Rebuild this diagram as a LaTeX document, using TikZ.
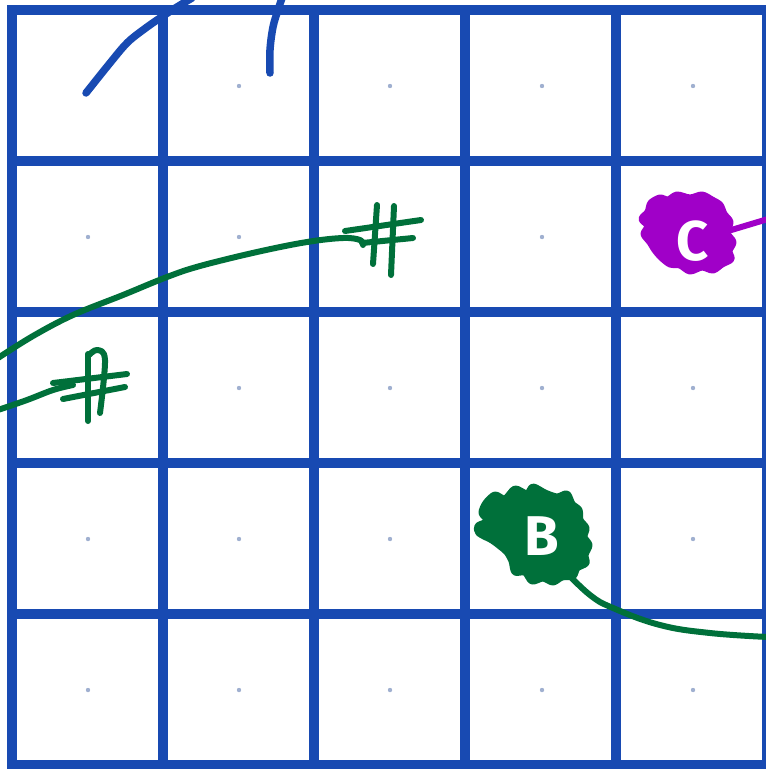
\documentclass[tikz,border=0pt]{standalone}
\usepackage{fontspec}
\setsansfont{Fira Sans}
\usetikzlibrary{positioning}
\definecolor{gridblue}{RGB}{24,74,178}
\definecolor{dotgray}{RGB}{160,176,208}
\definecolor{penblue}{RGB}{24,74,178}
\definecolor{pengreen}{RGB}{0,112,58}
\definecolor{penpurple}{RGB}{160,0,200}

\tikzset{
  gridline/.style={gridblue, line width=10pt, line cap=rect},
  pen/.style={line width=6pt, line cap=round, line join=round},
  blob/.style={line width=7pt, line join=round},
  letter/.style={white, font=\sffamily\bfseries\fontsize{56}{56}\selectfont, inner sep=0pt}
}

\begin{document}
\begin{tikzpicture}[x=1pt, y=-1pt]
    \useasboundingbox (0,0) rectangle (766,769);
    \clip (0,0) rectangle (766,769);

    % Grid
    \foreach \k in {0,...,5} {
        \draw[gridline] ({12+151*\k},10) -- ({12+151*\k},765);
        \draw[gridline] (12,{10+151*\k}) -- (767,{10+151*\k});
    }

    % Centre dots
    \foreach \cx/\cy in {239/86, 390/86, 542/86, 693/86,
                         88/237, 239/237, 542/237,
                         239/388, 390/388, 542/388, 693/388,
                         88/539, 239/539, 390/539, 693/539,
                         88/690, 239/690, 390/690, 542/690, 693/690}
        \fill[dotgray] (\cx,\cy) circle (2.2pt);

    % Blue strokes at the top
    \draw[pen, penblue, line width=7.5pt] plot[smooth, tension=0.6] coordinates
        {(86,93) (110,63) (127,43) (143,30) (160,18) (177,7) (192,-2)};
    \draw[pen, penblue, line width=7.5pt] plot[smooth, tension=0.6] coordinates
        {(270,73) (270,50) (273,27) (278,10) (282,-2)};

    % Green curve to the upper sign
    \draw[pen, pengreen] plot[smooth, tension=0.6] coordinates
        {(-2,358) (33,336) (73,315) (123,295) (167,277) (200,266) (257,252) (307,242) (343,238) (360,240) (363,245)};
    \draw[pen, pengreen] (345,231) -- (421,220);
    \draw[pen, pengreen] (362,243) -- (413,238);
    \draw[pen, pengreen] (377,205) -- (373,264);
    \draw[pen, pengreen] (394,206) -- (391,275);

    % Green curve to the lower sign
    \draw[pen, pengreen] plot[smooth, tension=0.6] coordinates
        {(-2,410) (27,400) (53,390) (73,385)};
    \draw[pen, pengreen] (53,383) -- (127,374);
    \draw[pen, pengreen] (63,399) -- (125,387);
    \draw[pen, pengreen] (88,354) -- (88,421);
    \draw[pen, pengreen] plot[smooth, tension=0.6] coordinates
        {(88,356) (97,350) (105,360) (100,413)};

    % Blob B with its tail
    \draw[pen, pengreen] plot[smooth, tension=0.7] coordinates
        {(566,572) (590,595) (613,608) (660,625) (710,633) (768,637)};
    \filldraw[blob, pengreen] plot[smooth cycle, tension=0.5] coordinates
        {(486,503) (495,495) (505,499) (515,489) (527,494) (533,487) (545,493)
         (557,497) (567,494) (572,504) (579,510) (580,520) (586,528) (584,537)
         (589,545) (585,555) (586,563) (577,568) (573,576) (562,577) (553,582)
         (543,578) (532,581) (525,572) (515,572) (512,561) (507,552) (500,546)
         (492,540) (479,533) (478,526) (488,521) (482,513)};
    \node[letter] (labB) at (542,536) {B};

    % Blob C with its tail
    \draw[pen, penpurple] (718,234) -- (768,219);
    \filldraw[blob, penpurple] plot[smooth cycle, tension=0.5] coordinates
        {(651,203) (660,198) (668,200) (677,195) (690,198) (702,195) (712,200)
         (720,205) (724,214) (730,222) (727,233) (733,242) (729,251) (731,259)
         (722,264) (713,270) (702,267) (690,271) (680,265) (670,264) (661,257)
         (655,250) (650,242) (644,234) (648,226) (642,219) (648,212)};
    \node[letter] (labC) at (693,241) {C};
\end{tikzpicture}
\end{document}
